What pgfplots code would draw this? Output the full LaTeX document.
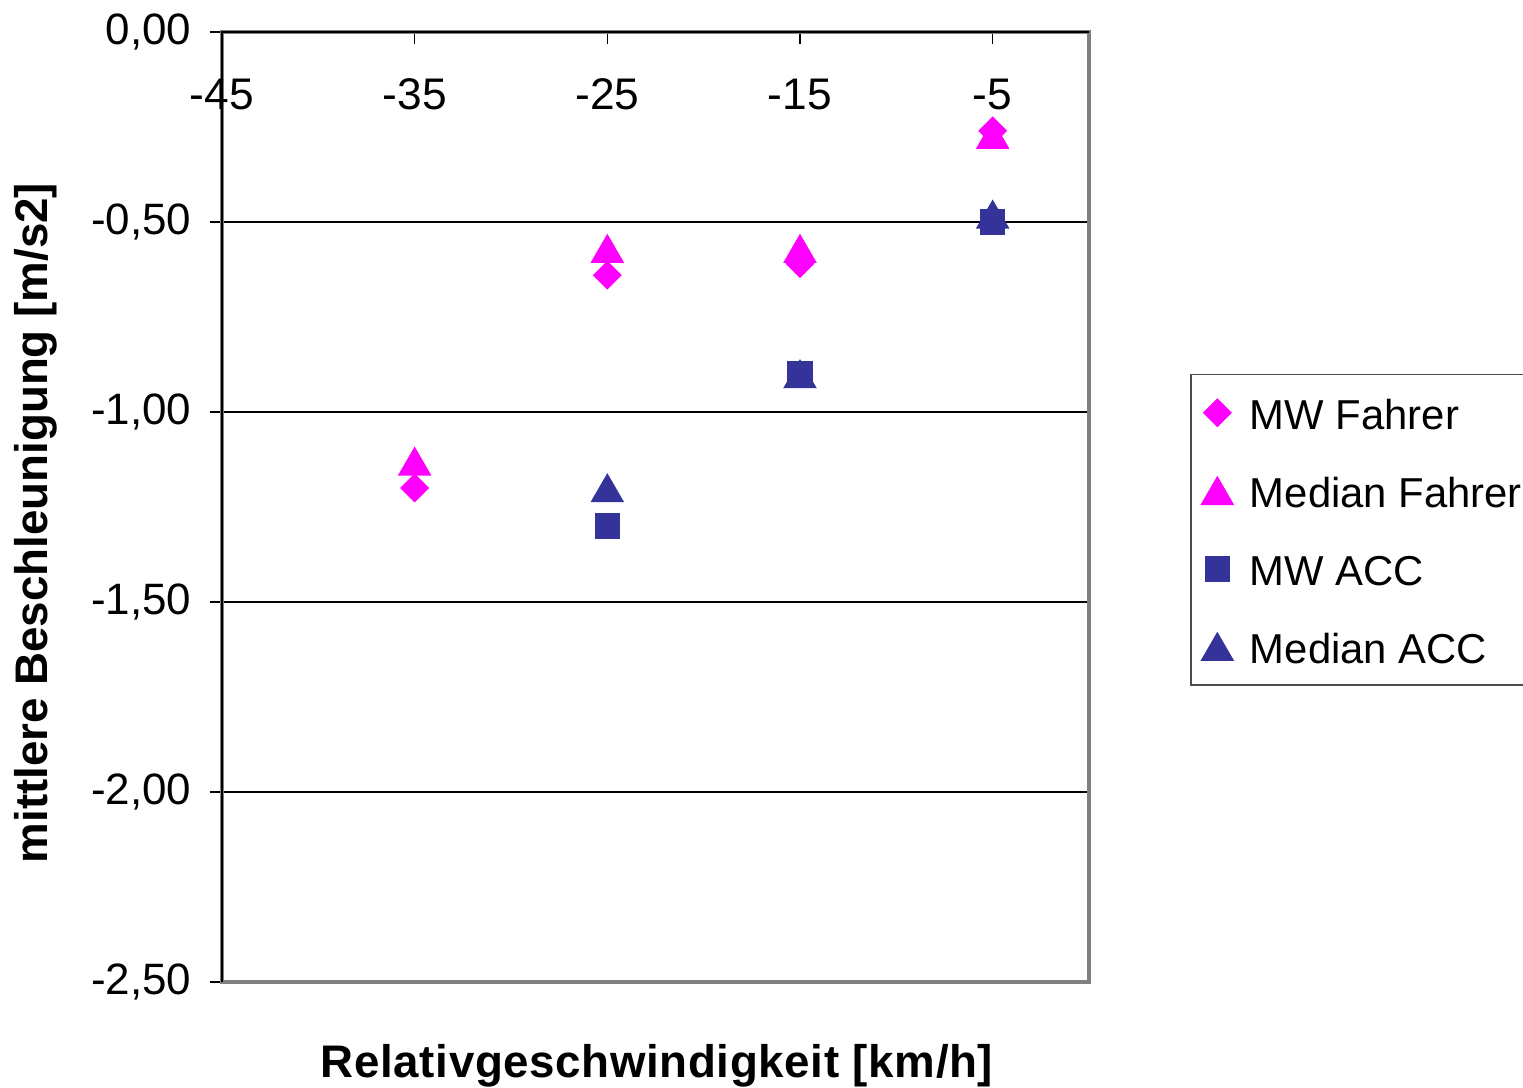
\documentclass[border=0pt]{standalone}
\usepackage{fontspec}
\setmainfont{Liberation Sans}
\usepackage{pgfplots}
\pgfplotsset{compat=1.18}
\definecolor{fahrer}{HTML}{FF00FF}
\definecolor{acc}{HTML}{333399}
\definecolor{framegray}{HTML}{808080}

% mean / median deceleration per relative speed class
\pgfplotsset{
  mwf/.style={only marks, mark=square*, mark size=0.95mm, color=fahrer, mark options={rotate=45}},
  mdf/.style={only marks, mark=triangle*, mark size=1.8mm, color=fahrer, mark options={yshift=-0.45mm}},
  mwa/.style={only marks, mark=square*, mark size=1.2mm, color=acc},
  mda/.style={only marks, mark=triangle*, mark size=1.8mm, color=acc, mark options={yshift=-0.45mm}},
}

\begin{document}
\begin{tikzpicture}
\path[use as bounding box] (0,0) rectangle (152.3mm,108.8mm);
\begin{axis}[
  at={(22.2mm,10.6mm)}, anchor=south west,
  scale only axis, width=86.7mm, height=95mm,
  xmin=-45, xmax=0, ymin=-2.5, ymax=0,
  xtick={-45,-35,-25,-15,-5},
  ytick={-2.5,-2,-1.5,-1,-0.5,0},
  xtick pos=right, xticklabel pos=right,
  ytick pos=left, yticklabel pos=left,
  tick align=inside,
  major tick length=1.2mm,
  tick style={black, line width=0.15mm},
  y tick style={xshift=-1.2mm},
  ymajorgrids,
  grid style={black, line width=0.15mm},
  axis line style={framegray, line width=0.35mm},
  /pgf/number format/assume math mode=true,
  xticklabel style={anchor=base, yshift=-7.7mm, inner sep=0pt, font=\fontsize{12.6}{15}\selectfont},
  yticklabel style={anchor=east, inner sep=0pt, xshift=-3.0mm, font=\fontsize{12.5}{15}\selectfont,
    /pgf/number format/.cd, fixed, fixed zerofill, precision=2, use comma},
  clip=false,
  legend cell align=left,
  legend style={at={(1.1165,0.64)}, anchor=north west, draw=black!70, line width=0.15mm,
    font=\fontsize{11.9}{15}\selectfont, inner xsep=1.1mm, inner ysep=2.1mm, row sep=4.4mm,
    nodes={inner sep=0pt, text height=3.4mm, text depth=0mm},
    /tikz/every odd column/.append style={column sep=1.7mm}},
]
\addlegendimage{mwf}\addlegendentry{MW Fahrer}
\addlegendimage{mdf}\addlegendentry{Median Fahrer}
\addlegendimage{mwa}\addlegendentry{MW ACC}
\addlegendimage{mda}\addlegendentry{Median ACC}

\addplot[mwf, forget plot] coordinates {(-35,-1.20) (-25,-0.64) (-15,-0.61) (-5,-0.26)};
\addplot[mdf, forget plot] coordinates {(-35,-1.13) (-25,-0.57) (-15,-0.57) (-5,-0.27)};
\addplot[mda, forget plot] coordinates {(-25,-1.20) (-15,-0.90) (-5,-0.48)};
\addplot[mwa, forget plot] coordinates {(-25,-1.30) (-15,-0.90) (-5,-0.50)};

\draw[black, line width=0.15mm] (rel axis cs:0,0) -- (rel axis cs:0,1) -- (rel axis cs:1,1);
\end{axis}
\node[rotate=90, anchor=base, font=\bfseries\fontsize{13}{15}\selectfont] at (4.8mm,56.5mm) {mittlere Beschleunigung [m/s2]};
\node[anchor=base, font=\bfseries\fontsize{13}{15}\selectfont\addfontfeature{LetterSpace=1.4}] at (65.7mm,1.0mm) {Relativgeschwindigkeit [km/h]};
\end{tikzpicture}
\end{document}
